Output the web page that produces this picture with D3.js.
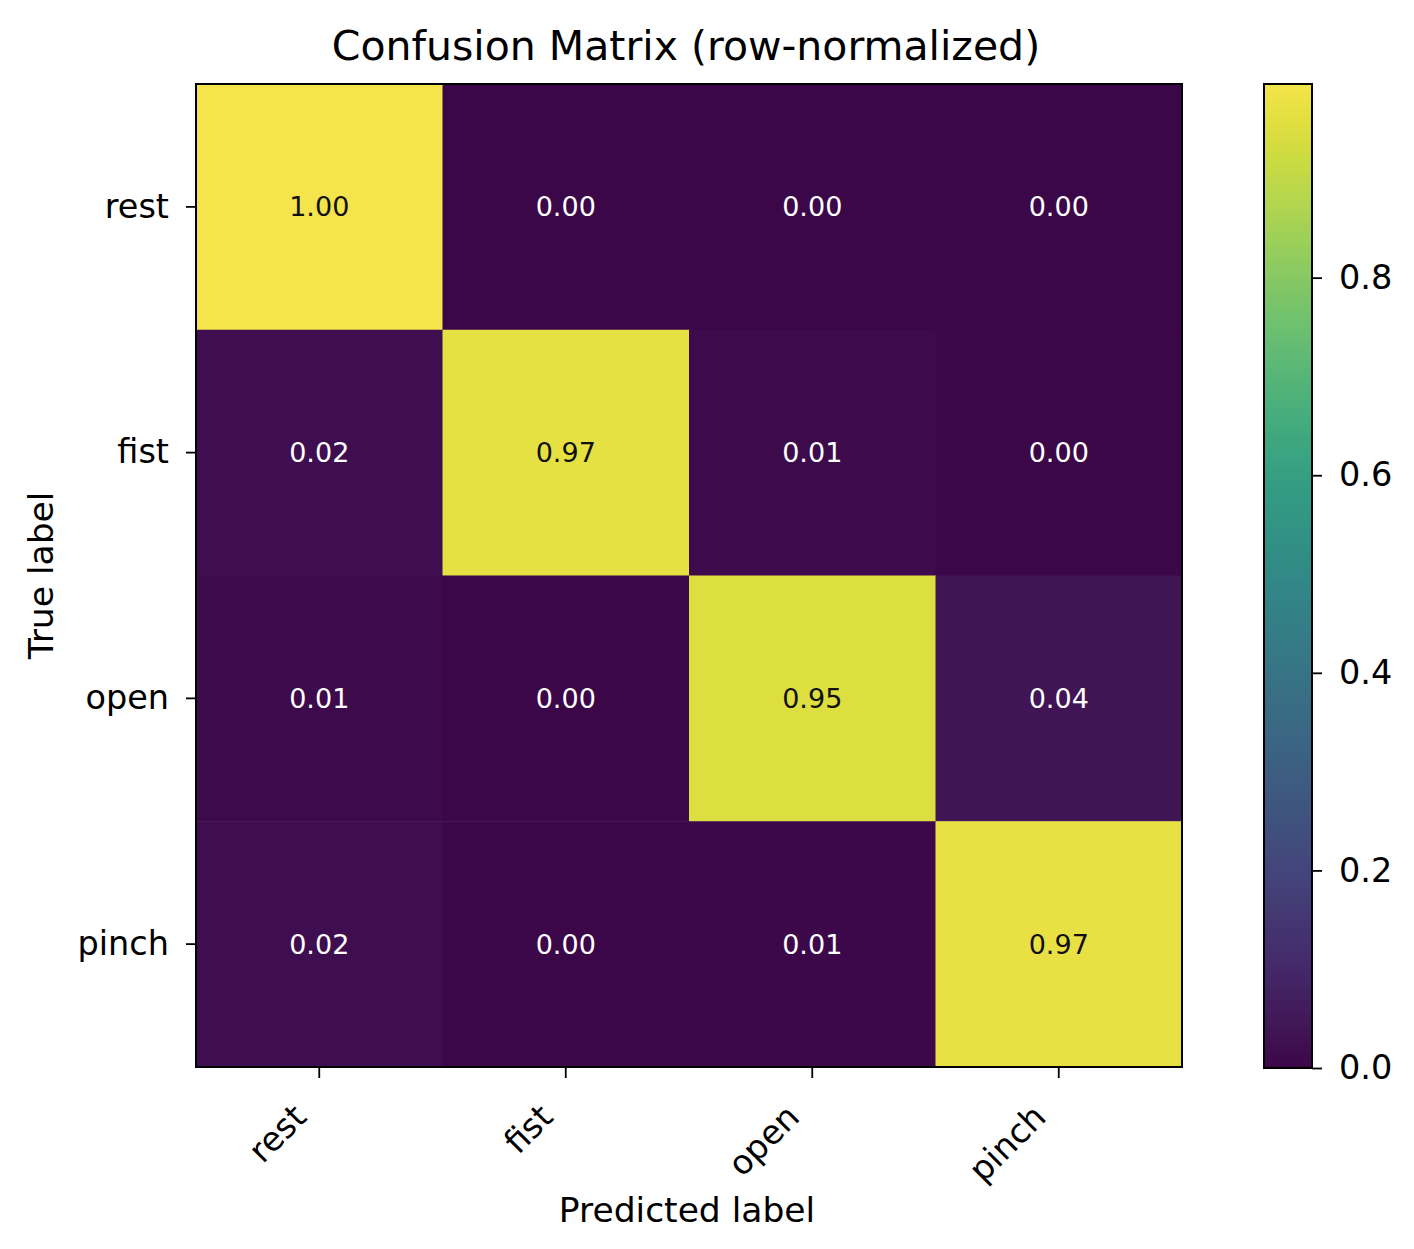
<!DOCTYPE html>
<html>
<head>
<meta charset="utf-8">
<script src="https://cdn.jsdelivr.net/npm/d3@7"></script>
<style>
  body { margin: 0; background: #fff; }
  text { font-family: "DejaVu Sans", sans-serif; }
</style>
</head>
<body>
<div id="chart"></div>
<script>
// class names, same order for rows (true) and columns (predicted)
const labels = ["rest", "fist", "open", "pinch"];

// row-normalized confusion values, one array per true label
const rowRest  = [0.996, 0.002, 0.001, 0.001];
const rowFist  = [0.021, 0.968, 0.008, 0.003];
const rowOpen  = [0.010, 0.002, 0.950, 0.038];
const rowPinch = [0.021, 0.003, 0.007, 0.969];

const cbarTicks = [0.0, 0.2, 0.4, 0.6, 0.8];

const rows = [rowRest, rowFist, rowOpen, rowPinch];
const cells = [];
rows.forEach((r, i) => {
  r.forEach((v, j) => {
    cells.push({ t: labels[i], p: labels[j], v: v });
  });
});

const width = 1414, height = 1249;
const plotL = 196, plotR = 1182, plotT = 84, plotB = 1067;

const svg = d3.select("#chart")
  .append("svg")
  .attr("width", width)
  .attr("height", height);

svg.append("rect")
  .attr("width", width)
  .attr("height", height)
  .attr("fill", "#fff");

// the reference viridis looks a bit washed out, so pull it toward grey
function mute(c) {
  const rgb = d3.rgb(c);
  const lum = 0.3 * rgb.r + 0.59 * rgb.g + 0.11 * rgb.b;
  const k = 0.78;
  return d3.rgb(lum + k * (rgb.r - lum), lum + k * (rgb.g - lum), lum + k * (rgb.b - lum)).formatHex();
}

const vmax = d3.max(cells, d => d.v);
const viridis = d3.scaleSequential(d3.interpolateViridis).domain([0, vmax]);
const color = v => mute(viridis(v));

const x = d3.scaleBand().domain(labels).range([plotL, plotR]);
const y = d3.scaleBand().domain(labels).range([plotT, plotB]);

// heatmap cells
svg.append("g")
  .selectAll("rect")
  .data(cells)
  .join("rect")
  .attr("x", d => x(d.p))
  .attr("y", d => y(d.t))
  .attr("width", x.bandwidth() + 0.5)
  .attr("height", y.bandwidth() + 0.5)
  .attr("fill", d => color(d.v));

// cell annotations
svg.append("g")
  .selectAll("text")
  .data(cells)
  .join("text")
  .attr("x", d => x(d.p) + x.bandwidth() / 2)
  .attr("y", d => y(d.t) + y.bandwidth() / 2)
  .attr("text-anchor", "middle")
  .attr("dominant-baseline", "central")
  .attr("font-size", 27)
  .attr("fill", d => d.v > vmax / 2 ? "#111" : "#fff")
  .text(d => d3.format(".2f")(d.v));

// frame
svg.append("rect")
  .attr("x", plotL)
  .attr("y", plotT)
  .attr("width", plotR - plotL)
  .attr("height", plotB - plotT)
  .attr("fill", "none")
  .attr("stroke", "#000")
  .attr("stroke-width", 2);

// y axis
const yAxis = svg.append("g")
  .attr("transform", `translate(${plotL},0)`)
  .call(d3.axisLeft(y).tickSize(10).tickPadding(17));
yAxis.select(".domain").remove();
yAxis.selectAll(".tick line").attr("stroke", "#000").attr("stroke-width", 1.8);
yAxis.selectAll(".tick text")
  .attr("font-size", 33.5)
  .attr("fill", "#000")
  .attr("font-family", "DejaVu Sans, sans-serif");

// x axis
const xAxis = svg.append("g")
  .attr("transform", `translate(0,${plotB})`)
  .call(d3.axisBottom(x).tickSize(11).tickPadding(0));
xAxis.select(".domain").remove();
xAxis.selectAll(".tick line").attr("stroke", "#000").attr("stroke-width", 1.8);
xAxis.selectAll(".tick text")
  .attr("font-size", 33.5)
  .attr("fill", "#000")
  .attr("font-family", "DejaVu Sans, sans-serif")
  .attr("text-anchor", "end")
  .attr("dy", null)
  .attr("y", 0)
  .attr("transform", "translate(-11,52) rotate(-45)");

// axis titles
svg.append("text")
  .attr("x", (plotL + plotR) / 2 - 2)
  .attr("y", 1222)
  .attr("text-anchor", "middle")
  .attr("font-size", 34.5)
  .attr("fill", "#000")
  .text("Predicted label");

svg.append("text")
  .attr("transform", `translate(53,${(plotT + plotB) / 2}) rotate(-90)`)
  .attr("text-anchor", "middle")
  .attr("font-size", 34.5)
  .attr("fill", "#000")
  .text("True label");

svg.append("text")
  .attr("x", (plotL + plotR) / 2 - 3)
  .attr("y", 60)
  .attr("text-anchor", "middle")
  .attr("font-size", 41)
  .attr("fill", "#000")
  .text("Confusion Matrix (row-normalized)");

// colorbar
const cbL = 1264, cbR = 1312, cbT = 84, cbB = 1068;
const cy = d3.scaleLinear().domain([0, vmax]).range([cbB, cbT]);

const grad = svg.append("defs")
  .append("linearGradient")
  .attr("id", "cbar")
  .attr("x1", 0).attr("y1", 1)
  .attr("x2", 0).attr("y2", 0);
grad.selectAll("stop")
  .data(d3.range(0, 1.0001, 0.02))
  .join("stop")
  .attr("offset", d => d)
  .attr("stop-color", d => color(d * vmax));

svg.append("rect")
  .attr("x", cbL)
  .attr("y", cbT)
  .attr("width", cbR - cbL)
  .attr("height", cbB - cbT)
  .attr("fill", "url(#cbar)")
  .attr("stroke", "#000")
  .attr("stroke-width", 2);

const cAxis = svg.append("g")
  .attr("transform", `translate(${cbR},0)`)
  .call(d3.axisRight(cy).tickValues(cbarTicks).tickFormat(d3.format(".1f")).tickSize(10).tickPadding(17));
cAxis.select(".domain").remove();
cAxis.selectAll(".tick line").attr("stroke", "#000").attr("stroke-width", 1.8);
cAxis.selectAll(".tick text")
  .attr("font-size", 33.5)
  .attr("fill", "#000")
  .attr("font-family", "DejaVu Sans, sans-serif");
</script>
</body>
</html>
